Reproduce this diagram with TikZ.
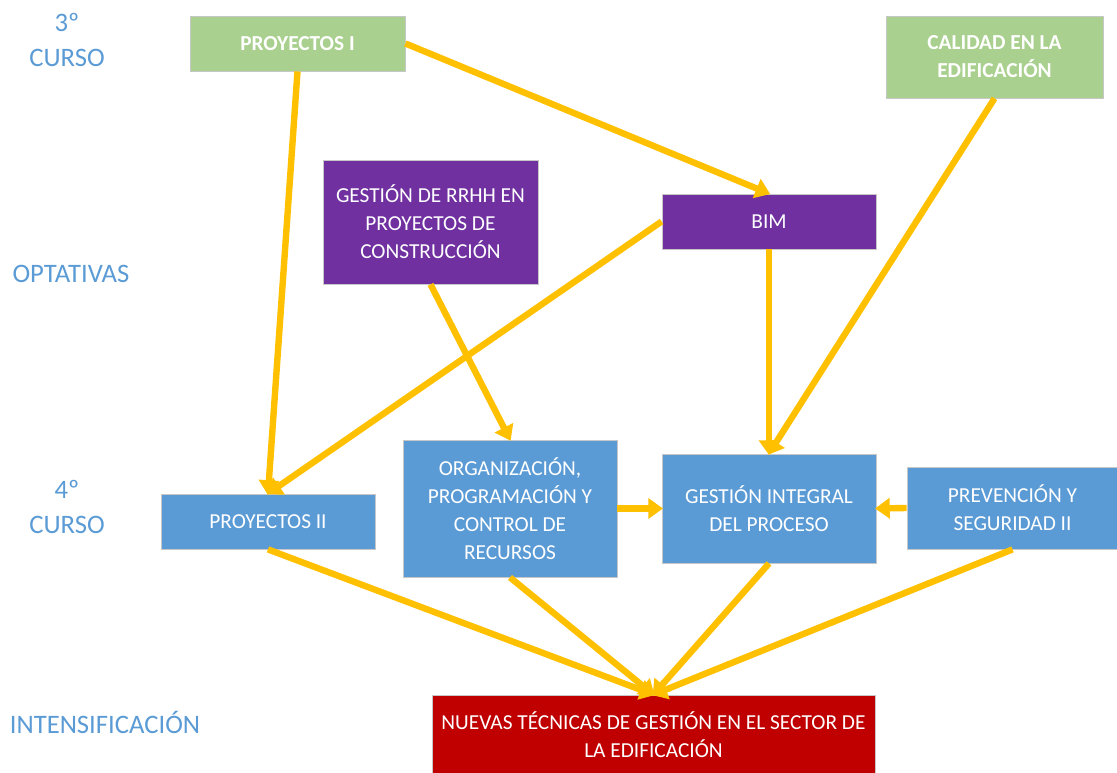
\documentclass[tikz,border=0pt]{standalone}
\usepackage{fontspec}
\setmainfont{Carlito}
\usetikzlibrary{arrows.meta}
\definecolor{cgreen}{HTML}{A9D08E}
\definecolor{cpurple}{HTML}{7030A0}
\definecolor{cblue}{HTML}{5B9BD5}
\definecolor{cred}{HTML}{C00000}
\definecolor{cyellow}{HTML}{FFC000}
\begin{document}
\begin{tikzpicture}[x=0.75pt,y=-0.75pt,
  box/.style 2 args={draw=black!22, line width=0.6pt, text=white, align=center,
    inner sep=0pt, minimum width=#1*0.75pt, minimum height=#2*0.75pt,
    font=\fontsize{16}{21}\selectfont},
  gbox/.style 2 args={box={#1}{#2}, fill=cgreen, font=\fontsize{16}{21}\selectfont\bfseries},
  pbox/.style 2 args={box={#1}{#2}, fill=cpurple},
  bbox/.style 2 args={box={#1}{#2}, fill=cblue},
  rbox/.style 2 args={box={#1}{#2}, fill=cred},
  level/.style={text=cblue, align=center, inner sep=0pt, font=\fontsize{20}{26}\selectfont},
  link/.style={draw=cyellow, line width=4.8pt, -{Triangle[length=11pt,width=15pt]}, shorten >=-1pt}]
\useasboundingbox (0,0) rectangle (1117,773);

% year / block labels
\node[level] (l3) at (67,40) {3º\\CURSO};
\node[level] (lopt) at (71,274) {OPTATIVAS};
\node[level] (l4) at (67,507) {4º\\CURSO};
\node[level] (lint) at (105,722) {INTENSIFICACIÓN};

% subjects
\node[gbox={215}{55}] (p1) at (297.5,43.5) {PROYECTOS I};
\node[gbox={217}{82}] (cal) at (994.5,57) {CALIDAD EN LA\\EDIFICACIÓN};
\node[pbox={215}{124}] (rrhh) at (430.5,222) {GESTIÓN DE RRHH EN\\PROYECTOS DE\\CONSTRUCCIÓN};
\node[pbox={214}{55}] (bim) at (769,221.5) {BIM};
\node[bbox={214}{55}] (p2) at (268,521.5) {PROYECTOS II};
\node[bbox={214}{137}] (org) at (510,508.5) {ORGANIZACIÓN,\\PROGRAMACIÓN Y\\CONTROL DE\\RECURSOS};
\node[bbox={214}{109}] (gi) at (769,508.5) {GESTIÓN INTEGRAL\\DEL PROCESO};
\node[bbox={211}{82}] (prev) at (1012.5,508) {PREVENCIÓN Y\\SEGURIDAD II};
\node[rbox={443}{80}] (nt) at (653.5,735) {NUEVAS TÉCNICAS DE GESTIÓN EN EL SECTOR DE\\LA EDIFICACIÓN};

% prerequisites
\draw[link] (p1.south) -- (p2.north);
\draw[link] (p1.east) -- (bim.north);
\draw[link] (bim.west) -- (p2.north);
\draw[link] (rrhh.south) -- (org.north);
\draw[link] (bim.south) -- (gi.north);
\draw[link] (cal.south) -- (gi.north);
\draw[link] (org.east) -- (gi.west);
\draw[link] (prev.west) -- (gi.east);
\draw[link] (p2.south) -- (nt.north);
\draw[link] (org.south) -- (nt.north);
\draw[link] (gi.south) -- (nt.north);
\draw[link] (prev.south) -- (nt.north);
\end{tikzpicture}
\end{document}
